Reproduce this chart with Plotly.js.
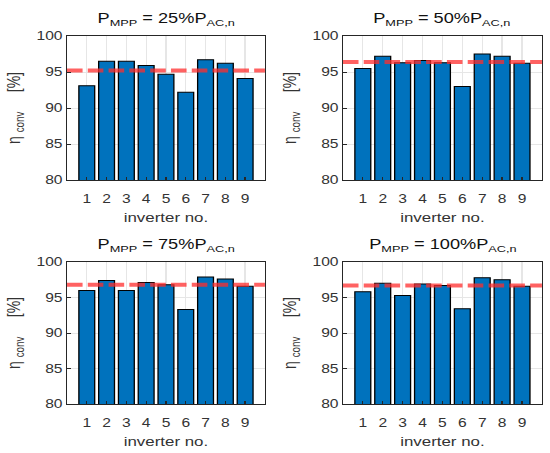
<!DOCTYPE html>
<html>
<head>
<meta charset="utf-8">
<script src="https://cdn.plot.ly/plotly-3.0.1.min.js"></script>
<style>
  html, body { margin: 0; padding: 0; background: #fff; overflow: hidden; }
  /* the reference figure is stretched sideways, so draw narrow and widen */
  #chart { width: 423px; height: 453px; transform: scaleX(1.3); transform-origin: 0 0; }
</style>
</head>
<body>
<div id="chart"></div>
<script>
// inverter numbers
const inverters = [1, 2, 3, 4, 5, 6, 7, 8, 9];

// conversion efficiency [%] per load level
const eta25  = [93.1, 96.5, 96.5, 95.9, 94.7, 92.2, 96.7, 96.2, 94.1];
const eta50  = [95.5, 97.2, 96.3, 96.6, 96.3, 93.0, 97.5, 97.2, 96.2];
const eta75  = [96.0, 97.4, 96.0, 97.1, 96.8, 93.3, 97.9, 97.6, 96.6];
const eta100 = [95.8, 97.0, 95.3, 96.9, 96.7, 93.4, 97.8, 97.5, 96.6];

// mean efficiency (red dashed line)
const meanEta = [95.2, 96.4, 96.8, 96.7];

const loadLevels = ['25%', '50%', '75%', '100%'];
const xSpan = [0, 10];

const series = [eta25, eta50, eta75, eta100];

const txtColor = '#333333';
const fontFam = '"Liberation Sans", Arial, sans-serif';

// panel domains (paper coords)
const xDom = [[0.1218, 0.4818], [0.6236, 0.9855], [0.1218, 0.4818], [0.6236, 0.9855]];
const yDom = [[0.6026, 0.9205], [0.6026, 0.9205], [0.1082, 0.4216], [0.1082, 0.4216]];

const yTitle = 'η&nbsp;<sub>conv</sub>&nbsp;&nbsp;&nbsp;&nbsp;&nbsp;[%]';

let traces = [];
let layout = {
    width: 423, height: 453,
    margin: {t: 0, b: 0, l: 0, r: 0},
    paper_bgcolor: '#fff', plot_bgcolor: '#fff',
    showlegend: false,
    font: {family: fontFam, color: txtColor, size: 12},
    annotations: []
};

series.forEach((vals, i) => {
    let n = i === 0 ? '' : String(i + 1);
    traces.push({
        type: 'bar', x: inverters, y: vals,
        xaxis: 'x' + n, yaxis: 'y' + n,
        width: 0.8,
        marker: {color: '#0072BD', line: {color: '#000', width: 1}},
        hoverinfo: 'x+y'
    });
    traces.push({
        type: 'scatter', mode: 'lines',
        x: xSpan, y: [meanEta[i], meanEta[i]],
        xaxis: 'x' + n, yaxis: 'y' + n,
        line: {color: 'rgba(255,45,45,0.75)', width: 4, dash: '12px,4px'}
    });

    layout['xaxis' + n] = {
        domain: xDom[i], anchor: 'y' + n,
        range: [0, 10], tickvals: inverters,
        ticks: 'inside', ticklen: 3, tickcolor: '#262626',
        ticklabelstandoff: 8,
        showline: true, linecolor: '#262626', linewidth: 1, mirror: true,
        showgrid: true, gridcolor: '#e6e6e6', zeroline: false,
        tickfont: {size: 12, color: txtColor},
        title: {text: 'inverter no.', font: {size: 13, color: txtColor}, standoff: 7}
    };
    layout['yaxis' + n] = {
        domain: yDom[i], anchor: 'x' + n,
        range: [80, 100], dtick: 5,
        ticks: 'inside', ticklen: 3, tickcolor: '#262626',
        showline: true, linecolor: '#262626', linewidth: 1, mirror: true,
        showgrid: true, gridcolor: '#e6e6e6', zeroline: false,
        tickfont: {size: 12, color: txtColor},
        title: {text: yTitle, font: {size: 14, color: txtColor}, standoff: 8}
    };

    layout.annotations.push({
        xref: 'paper', yref: 'paper',
        x: (xDom[i][0] + xDom[i][1]) / 2, y: yDom[i][1],
        xanchor: 'center', yanchor: 'bottom', yshift: 6,
        showarrow: false,
        text: 'P<sub>MPP</sub> = ' + loadLevels[i] + 'P<sub>AC,n</sub>',
        font: {size: 14, color: '#111'}
    });
});

Plotly.newPlot('chart', traces, layout, {displayModeBar: false, staticPlot: true});
</script>
</body>
</html>
